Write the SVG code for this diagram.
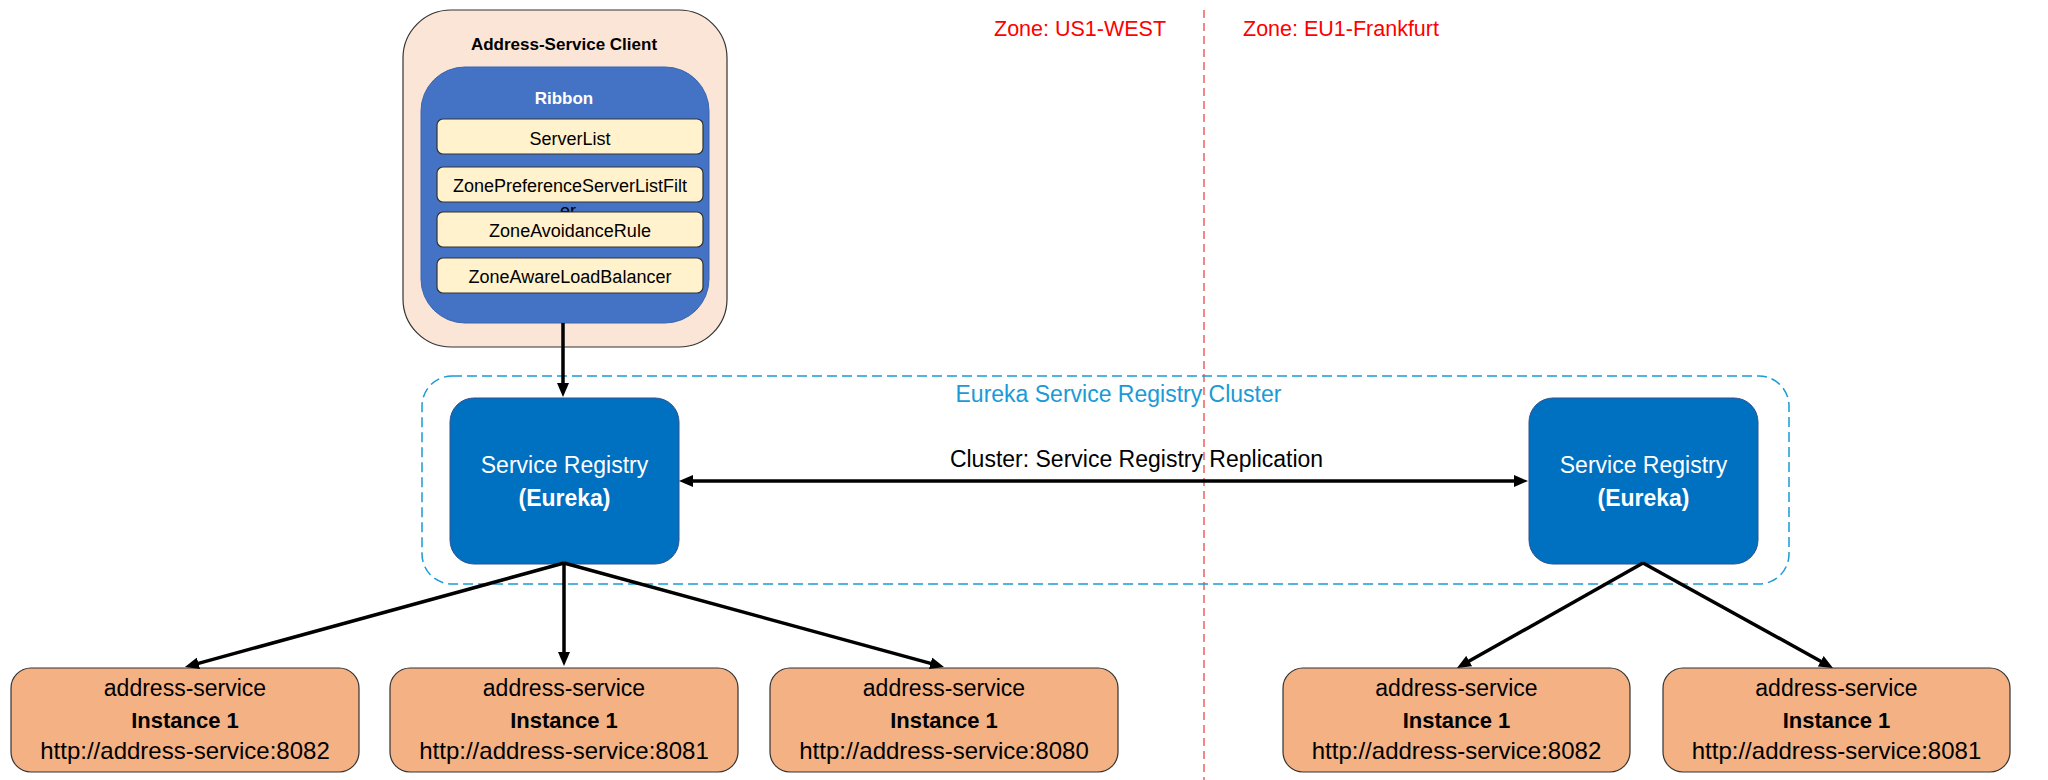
<svg xmlns="http://www.w3.org/2000/svg" width="2048" height="780" viewBox="0 0 2048 780">
<style>
  text { font-family: "Liberation Sans", Arial, sans-serif; }
  .zone { fill: #ff0000; font-size: 21.5px; }
  .inst { fill: #f4b183; stroke: #333333; stroke-width: 1.2; }
  .reg { fill: #0070c0; stroke: #2f528f; stroke-width: 1; }
  .regtxt { fill: #ffffff; font-size: 23px; text-anchor: middle; }
  .itxt { fill: #000000; text-anchor: middle; }
  .yel { fill: #fff2cc; stroke: #333333; stroke-width: 1.2; }
  .ytxt { fill: #000000; font-size: 18px; text-anchor: middle; }
  .conn { stroke: #000000; stroke-width: 3.5; fill: none; }
</style>
<defs>
  <marker id="arrow" viewBox="0 0 14 12" refX="1" refY="6" markerWidth="14" markerHeight="12" markerUnits="userSpaceOnUse" orient="auto-start-reverse">
    <path d="M0,0 L14,6 L0,12 z" fill="#000000"/>
  </marker>
</defs>
<rect width="2048" height="780" fill="#ffffff"/>

<g id="zones">
  <line x1="1204" y1="10" x2="1204" y2="780" stroke="#f06060" stroke-width="1.5" stroke-dasharray="8,5"/>
  <text class="zone" x="994" y="36">Zone: US1-WEST</text>
  <text class="zone" x="1243" y="36">Zone: EU1-Frankfurt</text>
</g>

<g id="cluster">
  <rect x="422" y="376" width="1367" height="208" rx="30" ry="30" fill="none" stroke="#1a9ad6" stroke-width="1.5" stroke-dasharray="10,5"/>
  <text x="1118.5" y="402" font-size="23" fill="#1a9ad6" text-anchor="middle">Eureka Service Registry Cluster</text>
</g>

<g id="client">
  <rect x="403" y="10" width="324" height="337" rx="48" ry="48" fill="#fbe5d6" stroke="#333333" stroke-width="1.2"/>
  <text x="564" y="50" font-size="17" font-weight="bold" text-anchor="middle" fill="#000000">Address-Service Client</text>
  <g id="ribbon">
    <rect x="421" y="67" width="288" height="256" rx="44" ry="44" fill="#4472c4" stroke="#3a64b0" stroke-width="1"/>
    <text x="564" y="104" font-size="17" font-weight="bold" text-anchor="middle" fill="#ffffff">Ribbon</text>
    <g id="serverlist">
      <rect class="yel" x="437" y="119" width="266" height="35" rx="6" ry="6"/>
      <text class="ytxt" x="570" y="145">ServerList</text>
    </g>
    <g id="zonepreference">
      <rect class="yel" x="437" y="167" width="266" height="35" rx="6" ry="6"/>
      <text class="ytxt" x="570" y="192">ZonePreferenceServerListFilt</text>
      <text class="ytxt" x="568" y="217">er</text>
    </g>
    <g id="zoneavoidance">
      <rect class="yel" x="437" y="212" width="266" height="35" rx="6" ry="6"/>
      <text class="ytxt" x="570" y="237">ZoneAvoidanceRule</text>
    </g>
    <g id="zoneaware">
      <rect class="yel" x="437" y="258" width="266" height="35" rx="6" ry="6"/>
      <text class="ytxt" x="570" y="283">ZoneAwareLoadBalancer</text>
    </g>
  </g>
</g>

<g id="registry-west">
  <rect class="reg" x="450" y="398" width="229" height="166" rx="24" ry="24"/>
  <text class="regtxt" x="564.5" y="473">Service Registry</text>
  <text class="regtxt" x="564.5" y="506" font-size="22" font-weight="bold">(Eureka)</text>
</g>

<g id="registry-eu">
  <rect class="reg" x="1529" y="398" width="229" height="166" rx="24" ry="24"/>
  <text class="regtxt" x="1643.5" y="473">Service Registry</text>
  <text class="regtxt" x="1643.5" y="506" font-size="22" font-weight="bold">(Eureka)</text>
</g>

<g id="instance-8082-west">
  <rect class="inst" x="11" y="668" width="348" height="104" rx="20" ry="20"/>
  <text class="itxt" x="185" y="696" font-size="23">address-service</text>
  <text class="itxt" x="185" y="728" font-size="22" font-weight="bold">Instance 1</text>
  <text class="itxt" x="185" y="759" font-size="24">http://address-service:8082</text>
</g>
<g id="instance-8081-west">
  <rect class="inst" x="390" y="668" width="348" height="104" rx="20" ry="20"/>
  <text class="itxt" x="564" y="696" font-size="23">address-service</text>
  <text class="itxt" x="564" y="728" font-size="22" font-weight="bold">Instance 1</text>
  <text class="itxt" x="564" y="759" font-size="24">http://address-service:8081</text>
</g>
<g id="instance-8080-west">
  <rect class="inst" x="770" y="668" width="348" height="104" rx="20" ry="20"/>
  <text class="itxt" x="944" y="696" font-size="23">address-service</text>
  <text class="itxt" x="944" y="728" font-size="22" font-weight="bold">Instance 1</text>
  <text class="itxt" x="944" y="759" font-size="24">http://address-service:8080</text>
</g>
<g id="instance-8082-eu">
  <rect class="inst" x="1283" y="668" width="347" height="104" rx="20" ry="20"/>
  <text class="itxt" x="1456.5" y="696" font-size="23">address-service</text>
  <text class="itxt" x="1456.5" y="728" font-size="22" font-weight="bold">Instance 1</text>
  <text class="itxt" x="1456.5" y="759" font-size="24">http://address-service:8082</text>
</g>
<g id="instance-8081-eu">
  <rect class="inst" x="1663" y="668" width="347" height="104" rx="20" ry="20"/>
  <text class="itxt" x="1836.5" y="696" font-size="23">address-service</text>
  <text class="itxt" x="1836.5" y="728" font-size="22" font-weight="bold">Instance 1</text>
  <text class="itxt" x="1836.5" y="759" font-size="24">http://address-service:8081</text>
</g>

<g id="connectors">
  <line class="conn" x1="563" y1="323" x2="563" y2="384" marker-end="url(#arrow)"/>
  <line class="conn" x1="692" y1="481" x2="1515" y2="481" marker-start="url(#arrow)" marker-end="url(#arrow)"/>
  <text x="1136.5" y="467" font-size="23" fill="#000000" text-anchor="middle">Cluster: Service Registry Replication</text>
  <line class="conn" x1="564" y1="563" x2="197.5" y2="663.6" marker-end="url(#arrow)"/>
  <line class="conn" x1="564" y1="563" x2="564" y2="653" marker-end="url(#arrow)"/>
  <line class="conn" x1="564" y1="563" x2="931.5" y2="663.6" marker-end="url(#arrow)"/>
  <line class="conn" x1="1643" y1="563" x2="1468.3" y2="661.6" marker-end="url(#arrow)"/>
  <line class="conn" x1="1643" y1="563" x2="1821.6" y2="661.7" marker-end="url(#arrow)"/>
</g>
</svg>
